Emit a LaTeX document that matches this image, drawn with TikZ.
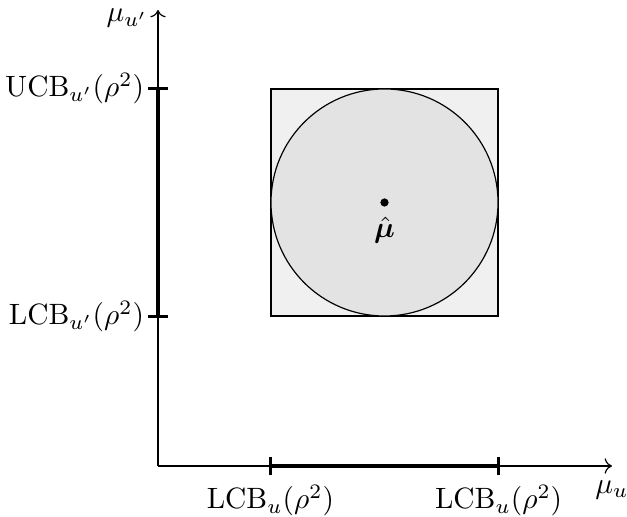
\documentclass[tikz,border=0pt]{standalone}
\usepackage{amsmath,amssymb}
\usepackage{bm}
\usetikzlibrary{arrows.meta, positioning, calc}

\begin{document}
\begin{tikzpicture}[axis/.style={->, thin}, interval/.style={line width=1.1pt}, tick/.style={line width=1pt}]
  \useasboundingbox (-1.888,-0.598) rectangle (5.605,5.569);
  % axes
  \coordinate (o) at (0,0);
  \coordinate (xend) at (5.425,0);
  \coordinate (yend) at (0,5.449);
  \draw[axis] (o) -- (xend);
  \draw[axis] (o) -- (yend);
  \node[below=0.5mm of xend] (xlab) {$\mu_u$};
  \node[left=0mm of yend, yshift=-1mm] (ylab) {$\mu_{u'}$};

  % confidence box and ball
  \node[draw, fill=gray!12, minimum size=2.713cm, inner sep=0] (box) at (2.707,3.149) {};
  \node[draw, circle, fill=gray!22, minimum size=2.713cm, inner sep=0] (ball) at (box.center) {};
  \fill (ball.center) circle (1.4pt);
  \node[below=0.5mm of ball.center] (muhat) {$\hat{\bm{\mu}}$};

  % intervals on the axes
  \coordinate (lx) at (box.west |- o);
  \coordinate (ux) at (box.east |- o);
  \coordinate (ly) at (o |- box.south);
  \coordinate (uy) at (o |- box.north);
  \draw[interval] (lx) -- (ux);
  \draw[interval] (ly) -- (uy);
  \draw[tick] ($(lx)+(0,0.11)$) -- ($(lx)-(0,0.11)$);
  \draw[tick] ($(ux)+(0,0.11)$) -- ($(ux)-(0,0.11)$);
  \draw[tick] ($(ly)+(0.12,0)$) -- ($(ly)-(0.12,0)$) node[left, inner sep=0.3mm] (lylab) {$\mathrm{LCB}_{u'}(\rho^2)$};
  \draw[tick] ($(uy)+(0.12,0)$) -- ($(uy)-(0.12,0)$) node[left, inner sep=0.3mm] (uylab) {$\mathrm{UCB}_{u'}(\rho^2)$};
  \node[below=1mm of lx] (lxlab) {$\mathrm{LCB}_u(\rho^2)$};
  \node[below=1mm of ux] (uxlab) {$\mathrm{LCB}_u(\rho^2)$};
\end{tikzpicture}
\end{document}
